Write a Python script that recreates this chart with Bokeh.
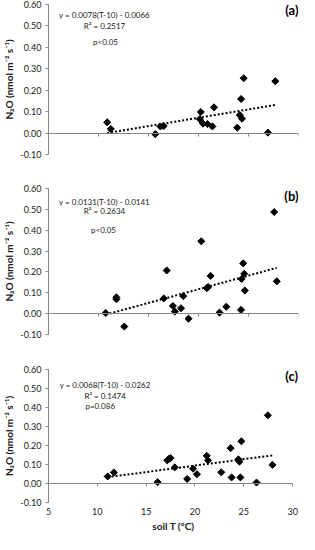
import math
from bokeh.plotting import figure
from bokeh.models import Range1d, FixedTicker, NumeralTickFormatter, Label, LinearAxis
from bokeh.layouts import column
from bokeh.embed import file_html
from bokeh.resources import INLINE

# ---------------- data ----------------
soil_t_a = [10.87, 11.23, 15.68, 16.19, 16.52, 20.23, 20.13, 20.45, 20.90, 21.39,
            21.55, 23.87, 24.13, 24.26, 24.35, 24.52, 26.94, 27.68]
n2o_a = [0.050, 0.019, -0.005, 0.031, 0.033, 0.098, 0.065, 0.044, 0.042, 0.031,
         0.120, 0.025, 0.084, 0.159, 0.067, 0.256, 0.002, 0.242]

soil_t_b = [10.72, 11.79, 11.79, 12.58, 16.53, 16.82, 17.44, 17.63, 18.25, 18.48,
            19.00, 20.28, 20.83, 20.96, 21.21, 22.10, 22.78, 24.25, 24.31, 24.47,
            24.57, 24.63, 27.57, 27.83]
n2o_b = [0.003, 0.078, 0.069, -0.062, 0.073, 0.207, 0.037, 0.010, 0.026, 0.084,
         -0.024, 0.347, 0.122, 0.128, 0.181, 0.005, 0.033, 0.018, 0.166, 0.241,
         0.191, 0.111, 0.487, 0.155]

soil_t_c = [11.06, 11.69, 16.17, 17.16, 17.33, 17.50, 17.93, 19.20, 19.80, 20.20,
            21.20, 21.33, 22.69, 23.65, 23.75, 24.45, 24.55, 24.65, 24.75, 26.30,
            27.46, 27.93]
n2o_c = [0.037, 0.058, 0.007, 0.122, 0.129, 0.134, 0.085, 0.024, 0.078, 0.049,
         0.146, 0.122, 0.059, 0.186, 0.032, 0.127, 0.115, 0.032, 0.222, 0.005,
         0.359, 0.098]

# fitted lines  y = slope*(T-10) + intercept  (as drawn)
fit_slope = [0.0078, 0.0131, 0.0068]
fit_intercept = [-0.0066, -0.0141, 0.0262]

eq_texts = ["y = 0.0078(T-10) - 0.0066", "y = 0.0131(T-10) - 0.0141", "y = 0.0068(T-10) - 0.0262"]
r2_texts = ["R\u00b2 = 0.2517", "R\u00b2 = 0.2634", "R\u00b2 = 0.1474"]
p_texts = ["p<0.05", "p<0.05", "p=0.086"]
panel_tags = ["(a)", "(b)", "(c)"]

x_ticks = [5, 10, 15, 20, 25, 30]
y_ticks = [-0.10, 0.00, 0.10, 0.20, 0.30, 0.40, 0.50, 0.60]

y_label = "N\u2082O (nmol m\u207b\u00b2 s\u207b\u00b9)"
x_label = "soil T (\u00b0C)"

FONT = "Lato"
AXIS_COL = "#868686"
TXT_COL = "#1a1a1a"

# layout per panel: (height, border_left, border_right, border_top, border_bottom, x_max)
layouts = [
    (180, 40, 0, 4, 26, 30.0),
    (180, 43, 1, 8, 26, 30.0),
    (174, 43, 0, 9, 28, 30.6),
]
# text anchor positions (data units)
eq_pos = [(10.6, 0.552), (10.6, 0.534), (10.8, 0.519)]
r2_pos = [(10.6, 0.499), (10.6, 0.490), (10.8, 0.461)]
p_pos = [(10.7, 0.424), (10.5, 0.399), (10.3, 0.406)]
tag_pos = [(30.0, 0.575), (30.0, 0.563), (30.55, 0.566)]


def make_panel(i, xs, ys, last):
    h, bl, br, bt, bb, xmax = layouts[i]
    p = figure(width=299, height=h, output_backend="svg", toolbar_location=None,
               x_range=Range1d(5, xmax), y_range=Range1d(-0.10, 0.60),
               x_axis_location=None, y_axis_location="left",
               min_border_left=bl, min_border_right=br,
               min_border_top=bt, min_border_bottom=bb)
    p.outline_line_color = None
    p.xgrid.visible = False
    p.ygrid.visible = False
    p.background_fill_color = "white"

    # y axis
    ya = p.yaxis[0]
    ya.ticker = FixedTicker(ticks=y_ticks)
    ya.formatter = NumeralTickFormatter(format="0.00")
    ya.axis_line_color = AXIS_COL
    ya.major_tick_line_color = AXIS_COL
    ya.major_tick_in = 0
    ya.major_tick_out = 3
    ya.minor_tick_line_color = None
    ya.major_label_standoff = 4
    ya.major_label_text_font = FONT
    ya.major_label_text_font_size = "9px"
    ya.major_label_text_color = TXT_COL
    ya.axis_label = y_label
    ya.axis_label_text_font = FONT
    ya.axis_label_text_font_style = "bold"
    ya.axis_label_text_font_size = "10px"
    ya.axis_label_text_color = TXT_COL
    ya.axis_label_standoff = 2

    # x axis crossing at y = 0
    xa = LinearAxis(fixed_location=0, ticker=FixedTicker(ticks=x_ticks),
                    bounds=(x_ticks[0], x_ticks[-1]))
    xa.axis_line_color = AXIS_COL
    xa.major_tick_line_color = AXIS_COL
    xa.major_tick_in = 0
    xa.major_tick_out = 3
    xa.minor_tick_line_color = None
    xa.major_label_text_font_size = "0px"
    xa.major_label_text_alpha = 0
    p.add_layout(xa, "below")

    if last:
        xb = LinearAxis(ticker=FixedTicker(ticks=x_ticks))
        xb.axis_line_color = None
        xb.major_tick_line_color = None
        xb.minor_tick_line_color = None
        xb.major_tick_in = 0
        xb.major_tick_out = 0
        xb.major_label_standoff = 5
        xb.major_label_text_font = FONT
        xb.major_label_text_font_size = "9px"
        xb.major_label_text_color = TXT_COL
        xb.axis_label = x_label
        xb.axis_label_text_font = FONT
        xb.axis_label_text_font_style = "bold"
        xb.axis_label_text_font_size = "10px"
        xb.axis_label_text_color = TXT_COL
        xb.axis_label_standoff = 2
        p.add_layout(xb, "below")

    # fitted line (dotted)
    x0, x1 = min(xs), max(xs)
    fx = [x0, x1]
    fy = [fit_slope[i] * (v - 10) + fit_intercept[i] for v in fx]
    p.line(fx, fy, line_color="black", line_width=2, line_dash="2 2")

    # points
    p.scatter(xs, ys, marker="square", angle=math.pi / 4, size=5,
              fill_color="black", line_color="black")

    for txt, (tx, ty) in zip([eq_texts[i], r2_texts[i], p_texts[i]],
                             [eq_pos[i], r2_pos[i], p_pos[i]]):
        p.add_layout(Label(x=tx, y=ty, text=txt, text_align="center",
                           text_baseline="middle", text_font=FONT,
                           text_font_size="8px", text_color=TXT_COL))
    tx, ty = tag_pos[i]
    p.add_layout(Label(x=tx, y=ty, text=panel_tags[i], text_align="right",
                       text_baseline="middle", text_font=FONT,
                       text_font_style="bold", text_font_size="13px",
                       text_color="black"))
    return p


pa = make_panel(0, soil_t_a, n2o_a, False)
pb = make_panel(1, soil_t_b, n2o_b, False)
pc = make_panel(2, soil_t_c, n2o_c, True)

layout = column(pa, pb, pc, spacing=0)

open("out.html", "w").write(file_html(layout, INLINE))
